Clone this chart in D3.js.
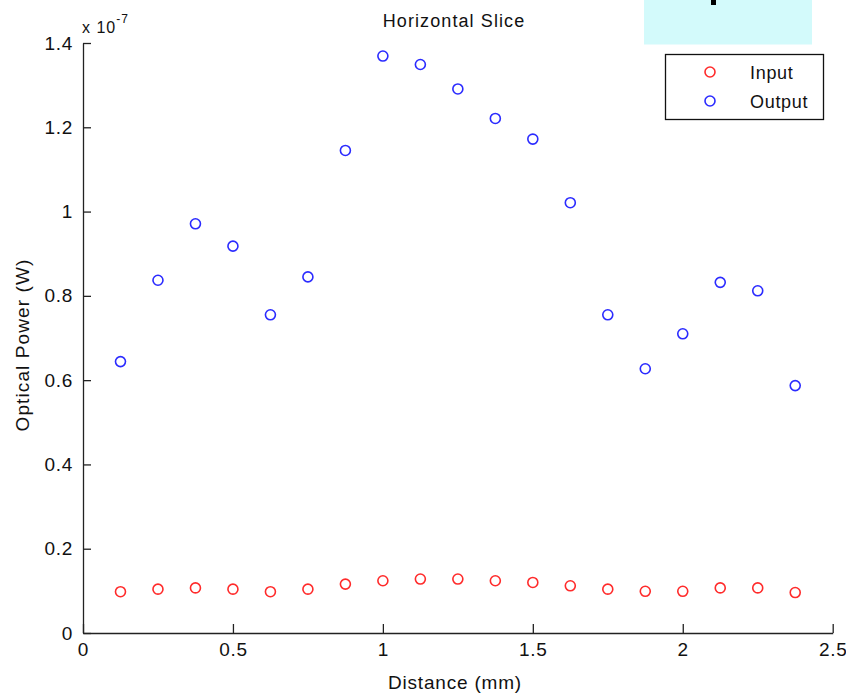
<!DOCTYPE html>
<html>
<head>
<meta charset="utf-8">
<script src="https://cdn.jsdelivr.net/npm/d3@7"></script>
<style>
  html, body { margin: 0; padding: 0; background: #fff; }
  svg { display: block; }
  text { font-family: "Liberation Sans", Arial, sans-serif; fill: #111; }
</style>
</head>
<body>
<svg id="chart" width="846" height="696"></svg>
<script>
// Sample positions along the slice (mm)
const distance = [0.125, 0.25, 0.375, 0.5, 0.625, 0.75, 0.875, 1.0, 1.125, 1.25,
                  1.375, 1.5, 1.625, 1.75, 1.875, 2.0, 2.125, 2.25, 2.375];
// Optical power, in units of 1e-7 W
const inputPower  = [0.098, 0.104, 0.107, 0.104, 0.098, 0.104, 0.116, 0.124, 0.128, 0.128,
                     0.124, 0.120, 0.112, 0.104, 0.099, 0.099, 0.107, 0.107, 0.096];
const outputPower = [0.644, 0.837, 0.971, 0.918, 0.755, 0.845, 1.145, 1.369, 1.349, 1.291,
                     1.221, 1.172, 1.021, 0.755, 0.627, 0.710, 0.832, 0.812, 0.587];
const xTicks = [0, 0.5, 1, 1.5, 2, 2.5];
const xTickLabels = ["0", "0.5", "1", "1.5", "2", "2.5"];
const yTicks = [0, 0.2, 0.4, 0.6, 0.8, 1, 1.2, 1.4];
const yTickLabels = ["0", "0.2", "0.4", "0.6", "0.8", "1", "1.2", "1.4"];
const seriesNames = ["Input", "Output"];
const seriesColors = ["#ff2b2b", "#2b2bff"];

const svg = d3.select("#chart");
const plotLeft = 83, plotRight = 832.7, plotTop = 43, plotBottom = 633;

const x = d3.scaleLinear().domain([0, 2.5]).range([plotLeft, plotRight]);
const y = d3.scaleLinear().domain([0, 1.4]).range([plotBottom, plotTop]);

const fontSize = 19, tickSpacing = 0.7, labelSpacing = 1.1;
const fontStack = "'Liberation Sans', Arial, sans-serif";

// Light cyan panel at the top right, with a dark fragment inside
svg.append("rect").attr("x", 644).attr("y", 0).attr("width", 168).attr("height", 44.5)
  .attr("fill", "#d3fafb");
svg.append("rect").attr("x", 711).attr("y", 0).attr("width", 5).attr("height", 5)
  .attr("fill", "#000");

// Bottom axis: ticks point inward
const xAxis = d3.axisBottom(x).tickValues(xTicks).tickSizeInner(-9).tickSizeOuter(0)
  .tickPadding(10).tickFormat((d, i) => xTickLabels[i]);
const gx = svg.append("g").attr("transform", `translate(0,${plotBottom})`).call(xAxis);
gx.select(".domain").attr("stroke", "#222").attr("stroke-width", 1.3);
gx.selectAll(".tick line").attr("stroke", "#222").attr("stroke-width", 1.3);
gx.selectAll(".tick text").attr("font-size", fontSize).attr("letter-spacing", tickSpacing)
  .attr("fill", "#111").style("font-family", fontStack);

// Left axis: ticks point inward
const yAxis = d3.axisLeft(y).tickValues(yTicks).tickSizeInner(-8).tickSizeOuter(0)
  .tickPadding(10).tickFormat((d, i) => yTickLabels[i]);
const gy = svg.append("g").attr("transform", `translate(${plotLeft},0)`).call(yAxis);
gy.select(".domain").attr("stroke", "#222").attr("stroke-width", 1.3);
gy.selectAll(".tick line").attr("stroke", "#222").attr("stroke-width", 1.3);
gy.selectAll(".tick text").attr("font-size", fontSize).attr("letter-spacing", tickSpacing)
  .attr("fill", "#111").style("font-family", fontStack);

// Exponent label above the y axis
const expo = svg.append("text").attr("x", 82).attr("y", 33)
  .attr("font-size", 16).attr("letter-spacing", 1);
expo.append("tspan").text("x 10");
expo.append("tspan").attr("dy", -10).attr("font-size", 12).text("-7");

// Title and axis labels
svg.append("text").attr("x", 454).attr("y", 27).attr("text-anchor", "middle")
  .attr("font-size", fontSize - 1).attr("letter-spacing", labelSpacing).text("Horizontal Slice");
svg.append("text").attr("x", 455).attr("y", 689).attr("text-anchor", "middle")
  .attr("font-size", fontSize).attr("letter-spacing", labelSpacing - 0.3).text("Distance (mm)");
svg.append("text").attr("transform", "translate(29,345) rotate(-90)").attr("text-anchor", "middle")
  .attr("font-size", fontSize).attr("letter-spacing", labelSpacing).text("Optical Power (W)");

// Scatter markers
const series = [inputPower, outputPower];
series.forEach((vals, s) => {
  svg.append("g").selectAll("circle").data(vals).join("circle")
    .attr("cx", (d, i) => x(distance[i]))
    .attr("cy", d => y(d))
    .attr("r", 5)
    .attr("fill", "none")
    .attr("stroke", seriesColors[s])
    .attr("stroke-width", 1.6);
});

// Legend
const lg = svg.append("g");
lg.append("rect").attr("x", 665.5).attr("y", 54.5).attr("width", 158).attr("height", 65)
  .attr("fill", "#fff").attr("stroke", "#111").attr("stroke-width", 1.3);
seriesNames.forEach((name, i) => {
  const cy = 72 + i * 29;
  lg.append("circle").attr("cx", 710).attr("cy", cy).attr("r", 5)
    .attr("fill", "none").attr("stroke", seriesColors[i]).attr("stroke-width", 1.6);
  lg.append("text").attr("x", 750).attr("y", cy + 7)
    .attr("font-size", fontSize - 1).attr("letter-spacing", tickSpacing).text(name);
});
</script>
</body>
</html>
